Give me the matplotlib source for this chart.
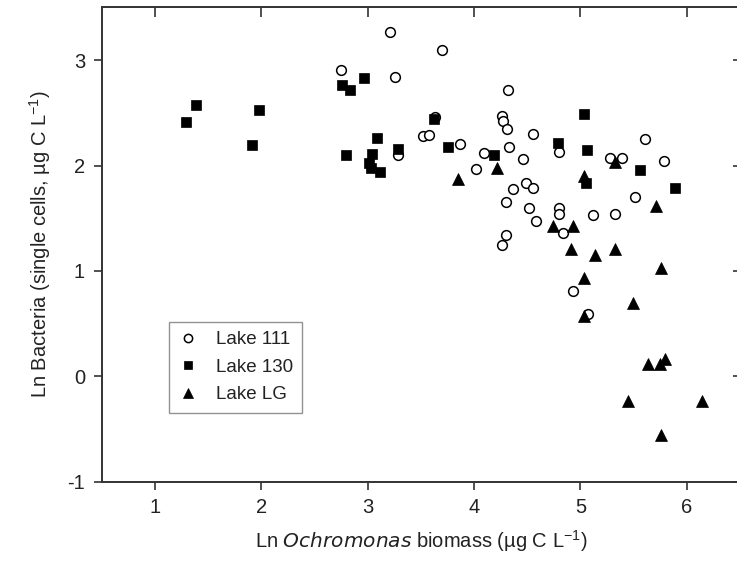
import matplotlib
matplotlib.use("Agg")
import matplotlib.pyplot as plt

plt.rcParams['font.family'] = ['Liberation Sans', 'DejaVu Sans']
plt.rcParams['axes.unicode_minus'] = False

# Lake 111 (open circles)
lake111_x = [2.745, 3.21, 3.26, 3.70, 3.29, 3.52, 3.58, 3.63, 3.87, 4.02,
             4.09, 4.26, 4.27, 4.31, 4.32, 4.33, 4.46, 4.55, 4.37, 4.49,
             4.55, 4.30, 4.52, 4.58, 4.26, 4.30, 4.80, 4.80, 4.80, 4.84,
             4.93, 5.07, 5.12, 5.33, 5.28, 5.39, 5.51, 5.61, 5.79]
lake111_y = [2.91, 3.27, 2.84, 3.10, 2.10, 2.28, 2.29, 2.46, 2.20, 1.97,
             2.12, 2.47, 2.42, 2.35, 2.72, 2.18, 2.06, 2.30, 1.78, 1.83,
             1.79, 1.65, 1.60, 1.47, 1.25, 1.34, 2.13, 1.60, 1.54, 1.36,
             0.81, 0.59, 1.53, 1.54, 2.07, 2.07, 1.70, 2.25, 2.04]

# Lake 130 (filled squares)
lake130_x = [1.29, 1.39, 1.91, 1.98, 2.76, 2.83, 2.97, 2.80, 3.09, 3.04,
             3.01, 3.03, 3.12, 3.29, 3.62, 3.76, 4.19, 4.79, 5.03, 5.06,
             5.05, 5.56, 5.89]
lake130_y = [2.41, 2.57, 2.19, 2.53, 2.76, 2.72, 2.83, 2.10, 2.26, 2.11,
             2.02, 1.98, 1.94, 2.16, 2.44, 2.18, 2.10, 2.21, 2.49, 2.15,
             1.83, 1.96, 1.79]

# Lake LG (filled triangles)
lakeLG_x = [3.85, 4.22, 5.03, 5.33, 5.71, 4.74, 4.93, 4.91, 5.14, 5.33,
            5.76, 5.03, 5.49, 5.03, 5.64, 5.75, 5.80, 5.45, 6.14, 5.76]
lakeLG_y = [1.87, 1.98, 1.90, 2.03, 1.62, 1.43, 1.43, 1.21, 1.15, 1.21,
            1.03, 0.93, 0.70, 0.57, 0.12, 0.12, 0.16, -0.23, -0.23, -0.56]

xticks = [1, 2, 3, 4, 5, 6]
yticks = [-1, 0, 1, 2, 3]

fig = plt.figure(figsize=(7.37, 5.71), dpi=100)
ax = fig.add_axes([0.138, 0.1564, 0.866, 0.8306])

ax.plot(lake111_x, lake111_y, linestyle='none', marker='o', markersize=7,
        markerfacecolor='white', markeredgecolor='black', markeredgewidth=1.1,
        label='Lake 111', zorder=3)
ax.plot(lake130_x, lake130_y, linestyle='none', marker='s', markersize=6.5,
        markerfacecolor='black', markeredgecolor='black', markeredgewidth=0.5,
        label='Lake 130', zorder=3)
ax.plot(lakeLG_x, lakeLG_y, linestyle='none', marker='^', markersize=8,
        markerfacecolor='black', markeredgecolor='black', markeredgewidth=0.5,
        label='Lake LG', zorder=3)

ax.set_xlim(0.5, 6.5)
ax.set_ylim(-1, 3.5)
ax.set_xticks(xticks)
ax.set_yticks(yticks)

for s in ax.spines.values():
    s.set_linewidth(1.4)
    s.set_color('#333333')

ax.tick_params(axis='both', which='major', direction='out', length=6, width=1.2,
               color='#333333', labelsize=14.5, pad=6, labelcolor='#222222')
ax.tick_params(axis='x', top=True, labeltop=False)
ax.tick_params(axis='y', right=True, labelright=False)
# inward ticks on top and right
for t in ax.xaxis.get_major_ticks():
    t.tick2line.set_marker(matplotlib.lines.TICKDOWN)
    t.tick2line.set_markersize(7)
for t in ax.yaxis.get_major_ticks():
    t.tick2line.set_marker(matplotlib.lines.TICKLEFT)
    t.tick2line.set_markersize(5)

ax.set_xlabel(r'Ln $\it{Ochromonas}$ biomass (µg C L$^{\mathregular{-1}}$)',
              fontsize=14.5, labelpad=8, color='#222222')
ax.set_ylabel(r'Ln Bacteria (single cells, µg C L$^{\mathregular{-1}}$)',
              fontsize=14.5, labelpad=10, color='#222222')

leg = ax.legend(loc='upper left', bbox_to_anchor=(0.1055, 0.337), frameon=True,
                fancybox=False, edgecolor='#777777', fontsize=13.5,
                handlelength=1.0, handletextpad=1.0, labelspacing=0.55,
                borderpad=0.5, markerscale=0.85, borderaxespad=0)
leg.get_frame().set_linewidth(1.0)
for txt in leg.get_texts():
    txt.set_color('#222222')

fig.savefig('out.png', dpi=100)
